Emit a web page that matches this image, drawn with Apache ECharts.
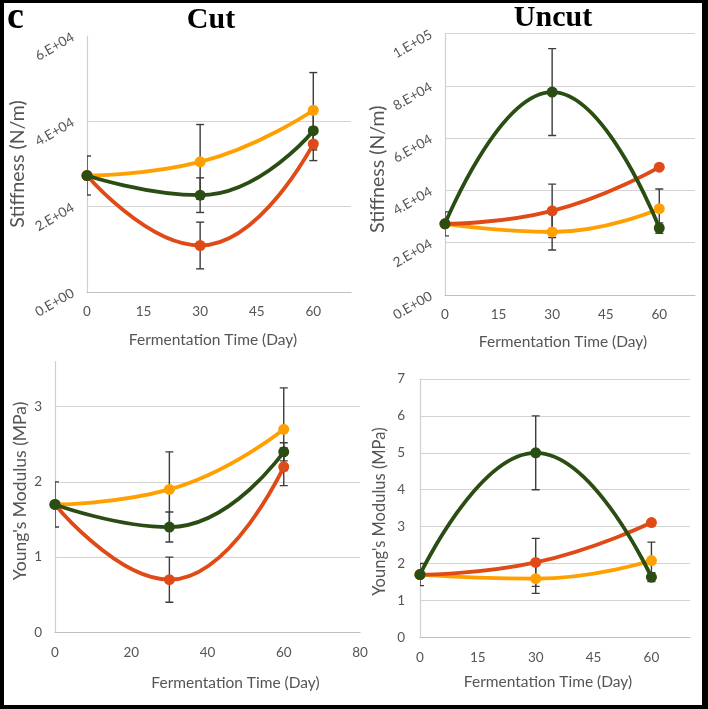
<!DOCTYPE html>
<html>
<head>
<meta charset="utf-8">
<script src="https://cdn.jsdelivr.net/npm/echarts@6/dist/echarts.min.js"></script>
<style>
html,body{margin:0;padding:0;background:#fff;}
#chart{width:708px;height:709px;}
</style>
</head>
<body>
<div id="chart"></div>
<script>
// ---- Data ----
const days = [0, 30, 60];

// Cut - Stiffness (N/m)
const cutStiffOrange = [27300, 30500, 42600];
const cutStiffOrangeErr = [0, 8750, 8830];
const cutStiffRed = [27300, 10900, 34700];
const cutStiffRedErr = [0, 5470, 3900];
const cutStiffGreen = [27300, 22700, 37800];
const cutStiffGreenErr = [4570, 4060, 4500];

// Uncut - Stiffness (N/m)
const uncutStiffOrange = [27200, 24100, 33000];
const uncutStiffOrangeErr = [0, 6880, 7520];
const uncutStiffRed = [27200, 32200, 48900];
const uncutStiffRedErr = [0, 10190, 0];
const uncutStiffGreen = [27200, 77600, 25600];
const uncutStiffGreenErr = [4590, 16600, 2000];

// Cut - Young's Modulus (MPa)
const cutYmOrange = [1.7, 1.9, 2.7];
const cutYmOrangeErr = [0, 0.5, 0.55];
const cutYmRed = [1.7, 0.7, 2.2];
const cutYmRedErr = [0, 0.3, 0.25];
const cutYmGreen = [1.7, 1.4, 2.4];
const cutYmGreenErr = [0.3, 0.2, 0.12];

// Uncut - Young's Modulus (MPa)
const uncutYmOrange = [1.7, 1.59, 2.08];
const uncutYmOrangeErr = [0, 0.4, 0.5];
const uncutYmRed = [1.7, 2.03, 3.11];
const uncutYmRedErr = [0, 0.65, 0];
const uncutYmGreen = [1.7, 5.0, 1.63];
const uncutYmGreenErr = [0.3, 1.0, 0.12];

// Tick labels
const stiffCutYTicks = ['0.E+00', '2.E+04', '4.E+04', '6.E+04'];
const stiffUncutYTicks = ['0.E+00', '2.E+04', '4.E+04', '6.E+04', '8.E+04', '1.E+05'];
const dayTicks15 = ['0', '15', '30', '45', '60'];
const dayTicks20 = ['0', '20', '40', '60', '80'];
const ymCutYTicks = ['0', '1', '2', '3'];
const ymUncutYTicks = ['0', '1', '2', '3', '4', '5', '6', '7'];

// Text
const panelLetter = 'c';
const colTitles = ['Cut', 'Uncut'];
const xName = 'Fermentation Time (Day)';
const yNameStiff = 'Stiffness (N/m)';
const yNameYm = "Young's Modulus (MPa)";

// ---- Styles ----
const C_ORANGE = '#FFA000';
const C_RED = '#E04A16';
const C_GREEN = '#2A4D14';
const C_ERR = '#3c3c3c';
const C_TXT = '#555555';
const FONT = 'Lato';

const chart = echarts.init(document.getElementById('chart'));

function tickFmt(arr, interval) {
  return function (v) {
    const i = Math.round(v / interval);
    return (Math.abs(i * interval - v) < 1e-9 && arr[i] !== undefined) ? arr[i] : '';
  };
}

const grids = [
  { left: 87, top: 36, width: 264, height: 256 },
  { left: 445, top: 33.5, width: 250, height: 261.5 },
  { left: 55, top: 361.6, width: 305, height: 270.7 },
  { left: 420, top: 379, width: 270, height: 258.3 }
];

function xAxis(gi, max, interval, ticks, showMax, nameGap, namePad) {
  return {
    gridIndex: gi, type: 'value', min: 0, max: max, interval: interval,
    name: xName, nameLocation: 'middle', nameGap: nameGap,
    nameTextStyle: { fontFamily: FONT, fontSize: 15.5, color: C_TXT, padding: namePad },
    axisLine: { show: true, lineStyle: { color: '#bfbfbf', width: 1.2 } },
    axisTick: { show: false },
    splitLine: { show: false },
    axisLabel: { fontFamily: FONT, fontSize: 13.5, color: C_TXT, margin: 13,
      showMaxLabel: showMax, formatter: tickFmt(ticks, interval) }
  };
}

function yAxis(gi, max, interval, ticks, name, nameGap, namePad, rotate, margin, showMaxLine, nameSize) {
  return {
    gridIndex: gi, type: 'value', min: 0, max: max, interval: interval,
    name: name, nameLocation: 'middle', nameGap: nameGap,
    nameTextStyle: { fontFamily: FONT, fontSize: nameSize, color: C_TXT, padding: namePad },
    axisLine: { show: true, lineStyle: { color: '#d0d0d0', width: 1.2 } },
    axisTick: { show: false },
    splitLine: { show: true, showMinLine: false, showMaxLine: showMaxLine, lineStyle: { color: '#d3d3d3', width: 1.2 } },
    axisLabel: { fontFamily: FONT, fontSize: 13.5, color: C_TXT, rotate: rotate, margin: margin,
      showMaxLabel: showMaxLine || rotate !== 0 ? true : false, formatter: tickFmt(ticks, interval) }
  };
}

const xAxes = [
  xAxis(0, 70, 15, dayTicks15, false, 40, [0, 12, 0, 0]),
  xAxis(1, 70, 15, dayTicks15, false, 39, [0, 14, 0, 0]),
  xAxis(2, 80, 20, dayTicks20, true, 43, [0, 0, 0, 56]),
  xAxis(3, 70, 15, dayTicks15, false, 37, [0, 14, 0, 0])
];
const yAxes = [
  yAxis(0, 60000, 20000, stiffCutYTicks, yNameStiff, 59, [0, 0, 0, 0], 30, 14, false, 19.5),
  yAxis(1, 100000, 20000, stiffUncutYTicks, yNameStiff, 55, [0, 10, 0, 0], 30, 14, true, 19.5),
  yAxis(2, 3.6, 1, ymCutYTicks, yNameYm, 26, [0, 0, 0, 12], 0, 13, false, 17.5),
  yAxis(3, 7, 1, ymUncutYTicks, yNameYm, 32, [0, 7, 0, 0], 0, 15, true, 16.5)
];

const series = [];
function addPanel(gi, groups) {
  groups.forEach(function (g, k) {
    series.push({
      type: 'custom', xAxisIndex: gi, yAxisIndex: gi, clip: true, z: 2,
      silent: true,
      data: days.map(function (d, i) { return [d, g.v[i], g.e[i]]; }).filter(function (r) { return r[2] > 0; }),
      encode: { x: 0, y: 1 },
      renderItem: function (params, api) {
        const x = api.value(0), y = api.value(1), e = api.value(2);
        const t = api.coord([x, y + e]);
        const b = api.coord([x, y - e]);
        const w = 4;
        const st = { stroke: C_ERR, lineWidth: 1.4 };
        return { type: 'group', children: [
          { type: 'line', shape: { x1: t[0], y1: t[1], x2: b[0], y2: b[1] }, style: st },
          { type: 'line', shape: { x1: t[0] - w, y1: t[1], x2: t[0] + w, y2: t[1] }, style: st },
          { type: 'line', shape: { x1: b[0] - w, y1: b[1], x2: b[0] + w, y2: b[1] }, style: st }
        ] };
      }
    });
  });
  groups.forEach(function (g, k) {
    series.push({
      type: 'line', xAxisIndex: gi, yAxisIndex: gi, smooth: true, z: 3 + k,
      symbol: 'circle', symbolSize: 11, silent: true,
      lineStyle: { color: g.c, width: 3.8 },
      itemStyle: { color: g.c },
      data: days.map(function (d, i) { return [d, g.v[i]]; })
    });
  });
}

addPanel(0, [
  { v: cutStiffOrange, e: cutStiffOrangeErr, c: C_ORANGE },
  { v: cutStiffRed, e: cutStiffRedErr, c: C_RED },
  { v: cutStiffGreen, e: cutStiffGreenErr, c: C_GREEN }
]);
addPanel(1, [
  { v: uncutStiffOrange, e: uncutStiffOrangeErr, c: C_ORANGE },
  { v: uncutStiffRed, e: uncutStiffRedErr, c: C_RED },
  { v: uncutStiffGreen, e: uncutStiffGreenErr, c: C_GREEN }
]);
addPanel(2, [
  { v: cutYmOrange, e: cutYmOrangeErr, c: C_ORANGE },
  { v: cutYmRed, e: cutYmRedErr, c: C_RED },
  { v: cutYmGreen, e: cutYmGreenErr, c: C_GREEN }
]);
addPanel(3, [
  { v: uncutYmOrange, e: uncutYmOrangeErr, c: C_ORANGE },
  { v: uncutYmRed, e: uncutYmRedErr, c: C_RED },
  { v: uncutYmGreen, e: uncutYmGreenErr, c: C_GREEN }
]);

const serif = { fontFamily: 'Liberation Serif', fontWeight: 'bold', fill: '#000' };

chart.setOption({
  backgroundColor: '#ffffff',
  animation: false,
  grid: grids,
  xAxis: xAxes,
  yAxis: yAxes,
  series: series,
  graphic: [
    { type: 'rect', shape: { x: 0, y: 0, width: 4, height: 709 }, style: { fill: '#000' }, z: 100 },
    { type: 'rect', shape: { x: 0, y: 0, width: 708, height: 3 }, style: { fill: '#000' }, z: 100 },
    { type: 'rect', shape: { x: 702, y: 0, width: 6, height: 709 }, style: { fill: '#000' }, z: 100 },
    { type: 'rect', shape: { x: 0, y: 705, width: 708, height: 4 }, style: { fill: '#000' }, z: 100 },
    { type: 'text', x: 7, y: 18, style: Object.assign({ text: panelLetter, fontSize: 38, align: 'left', verticalAlign: 'middle' }, serif), z: 100 },
    { type: 'text', x: 211, y: 20, style: Object.assign({ text: colTitles[0], fontSize: 30, align: 'center', verticalAlign: 'middle' }, serif), z: 100 },
    { type: 'text', x: 553, y: 18, style: Object.assign({ text: colTitles[1], fontSize: 30, align: 'center', verticalAlign: 'middle' }, serif), z: 100 }
  ]
});
</script>
</body>
</html>
